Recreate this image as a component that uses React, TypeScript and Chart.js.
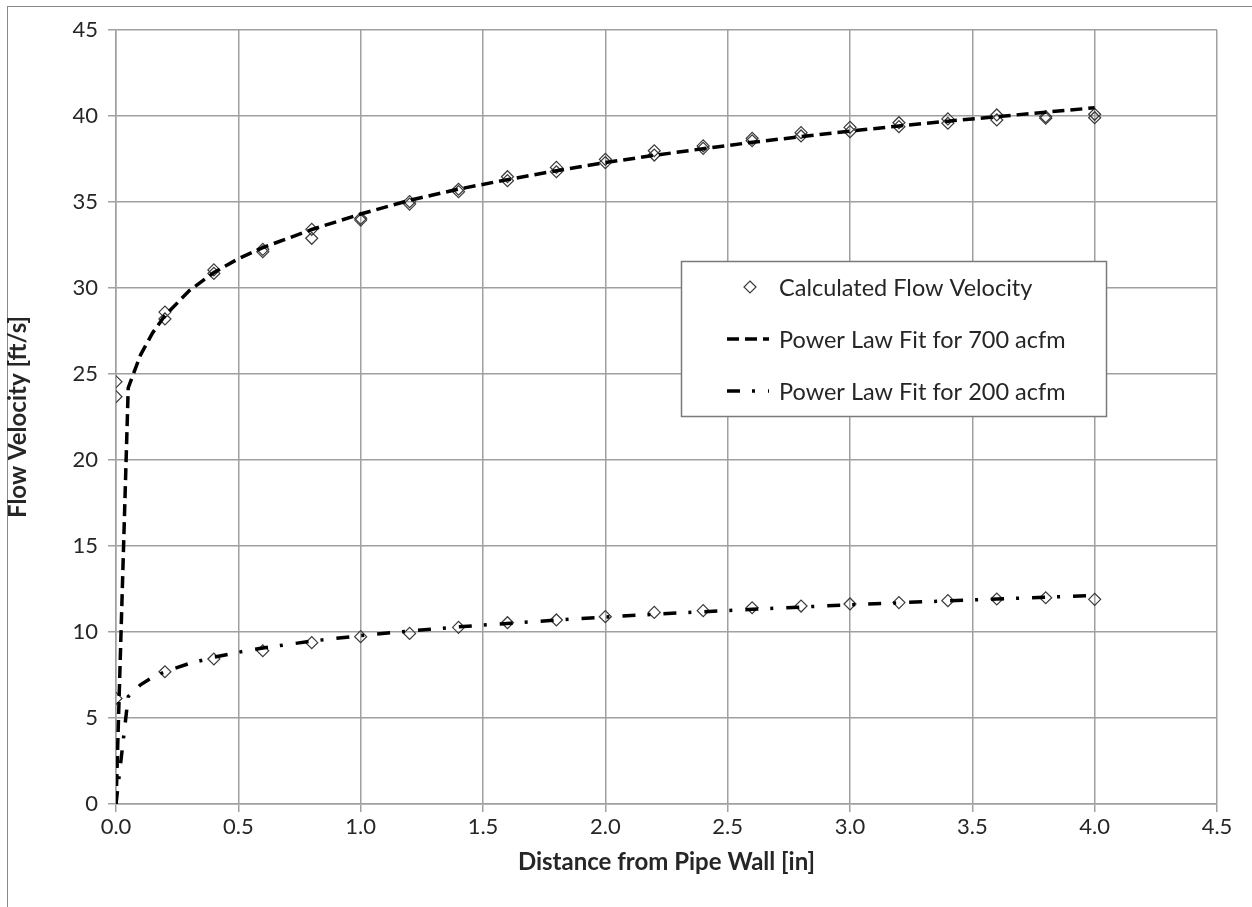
import React, { useEffect, useRef } from 'react';
import { Chart, registerables } from 'chart.js';

Chart.register(...registerables);

// Measurement positions (distance from pipe wall, in)
const profileX = [0, 0.2, 0.4, 0.6, 0.8, 1.0, 1.2, 1.4, 1.6, 1.8, 2.0, 2.2, 2.4, 2.6, 2.8, 3.0, 3.2, 3.4, 3.6, 3.8, 4.0];
// Calculated flow velocity, 700 acfm (two traverses)
const calc700A = [24.55, 28.6, 31.05, 32.25, 33.41, 34.05, 35.02, 35.74, 36.47, 37.01, 37.48, 37.98, 38.26, 38.7, 39.03, 39.34, 39.61, 39.83, 40.06, 39.96, 40.1];
const calc700B = [23.68, 28.2, 30.85, 32.11, 32.89, 33.95, 34.88, 35.6, 36.24, 36.76, 37.29, 37.73, 38.12, 38.56, 38.84, 39.09, 39.38, 39.58, 39.77, 39.87, 39.9];
// Calculated flow velocity, 200 acfm
const calc200 = [6.14, 7.69, 8.43, 8.91, 9.38, 9.73, 9.92, 10.27, 10.54, 10.7, 10.89, 11.14, 11.24, 11.41, 11.51, 11.63, 11.71, 11.82, 11.92, 11.99, 11.9];

// Power-law fit curves
const fitX = [0, 0.05, 0.1, 0.15, 0.2, 0.3, 0.4, 0.5, 0.6, 0.8, 1.0, 1.2, 1.4, 1.6, 1.8, 2.0, 2.2, 2.4, 2.6, 2.8, 3.0, 3.2, 3.4, 3.6, 3.8, 4.0];
const fit700 = [0, 24.2, 26.1, 27.4, 28.4, 29.85, 30.9, 31.7, 32.35, 33.4, 34.3, 35.1, 35.75, 36.3, 36.82, 37.29, 37.71, 38.1, 38.47, 38.8, 39.12, 39.42, 39.7, 39.96, 40.22, 40.48];
const fit200 = [0, 6.25, 6.93, 7.37, 7.69, 8.17, 8.53, 8.82, 9.07, 9.47, 9.79, 10.06, 10.3, 10.5, 10.69, 10.87, 11.03, 11.18, 11.32, 11.45, 11.58, 11.7, 11.81, 11.92, 12.02, 12.12];

const seriesLabels = ['Calculated Flow Velocity', 'Power Law Fit for 700 acfm', 'Power Law Fit for 200 acfm'];
const xTitle = 'Distance from Pipe Wall [in]';
const yTitle = 'Flow Velocity [ft/s]';

const FONT = 'Lato, "Open Sans", sans-serif';
const TEXT = '#262626';
const GRID = '#a0a0a0';
const MARKER = '#3a3a3a';
const DASH_700 = [12, 6];
const DASH_200 = [13, 12, 3, 13];

export default function App() {
  const ref = useRef<HTMLCanvasElement | null>(null);

  useEffect(() => {
    const canvas = ref.current;
    if (!canvas) return;

    const calcPoints: { x: number; y: number }[] = [];
    profileX.forEach((x, i) => {
      calcPoints.push({ x, y: calc700A[i] });
      calcPoints.push({ x, y: calc700B[i] });
      calcPoints.push({ x, y: calc200[i] });
    });

    const legendPlugin = {
      id: 'boxLegend',
      afterDatasetsDraw(chart: any) {
        const c = chart.ctx as CanvasRenderingContext2D;
        const area = chart.chartArea;
        const left = area.left + 565;
        const top = area.top + 231;
        const w = 425;
        const h = 155;
        c.save();
        c.fillStyle = '#ffffff';
        c.fillRect(left, top, w, h);
        c.strokeStyle = '#7a7a7a';
        c.lineWidth = 1.5;
        c.strokeRect(left + 0.5, top + 0.5, w, h);
        const rows = [top + 26, top + 78, top + 130];
        const symX = left + 69;
        const textX = left + 98;
        c.font = `23.5px ${FONT}`;
        c.fillStyle = TEXT;
        c.textBaseline = 'middle';
        c.textAlign = 'left';
        const r = 6;
        c.beginPath();
        c.moveTo(symX, rows[0] - r);
        c.lineTo(symX + r, rows[0]);
        c.lineTo(symX, rows[0] + r);
        c.lineTo(symX - r, rows[0]);
        c.closePath();
        c.strokeStyle = MARKER;
        c.lineWidth = 1.2;
        c.stroke();
        const drawSample = (y: number, dash: number[]) => {
          c.beginPath();
          c.setLineDash(dash);
          c.lineDashOffset = 0;
          c.strokeStyle = '#000';
          c.lineWidth = 3.5;
          c.moveTo(left + 46, y);
          c.lineTo(left + 88, y);
          c.stroke();
          c.setLineDash([]);
        };
        drawSample(rows[1], DASH_700);
        drawSample(rows[2], DASH_200);
        c.fillStyle = TEXT;
        seriesLabels.forEach((t, i) => c.fillText(t, textX, rows[i] + 1));
        c.restore();
      },
    };

    const chart = new Chart(canvas, {
      type: 'scatter',
      data: {
        datasets: [
          {
            label: seriesLabels[0],
            data: calcPoints,
            showLine: false,
            pointStyle: 'rectRot',
            pointRadius: 6,
            pointBorderWidth: 1.2,
            pointBorderColor: MARKER,
            pointBackgroundColor: 'rgba(0,0,0,0)',
            order: 2,
          },
          {
            label: seriesLabels[1],
            data: fitX.map((x, i) => ({ x, y: fit700[i] })),
            showLine: true,
            borderColor: '#000',
            borderWidth: 3.5,
            borderDash: DASH_700,
            pointRadius: 0,
            tension: 0,
            order: 1,
          },
          {
            label: seriesLabels[2],
            data: fitX.map((x, i) => ({ x, y: fit200[i] })),
            showLine: true,
            borderColor: '#000',
            borderWidth: 3.5,
            borderDash: DASH_200,
            pointRadius: 0,
            tension: 0,
            order: 0,
          },
        ],
      },
      options: {
        responsive: false,
        animation: false,
        devicePixelRatio: 1,
        layout: { padding: { left: 0, top: 30, right: 35, bottom: 0 } },
        plugins: {
          legend: { display: false },
          tooltip: { enabled: false },
        },
        scales: {
          x: {
            type: 'linear',
            min: 0,
            max: 4.5,
            afterFit: (s: any) => { s.height = 103; },
            ticks: {
              stepSize: 0.5,
              callback: (v: any) => Number(v).toFixed(1),
              font: { family: FONT, size: 22 },
              color: TEXT,
              padding: 2,
              maxRotation: 0,
            },
            grid: { color: GRID, lineWidth: 1.5, tickLength: 8, tickColor: GRID },
            border: { display: true, color: GRID, width: 1.5 },
            title: {
              display: true,
              text: xTitle,
              font: { family: FONT, size: 24, weight: 'bold' },
              color: TEXT,
              padding: { top: 0, bottom: 30 },
            },
          },
          y: {
            type: 'linear',
            min: 0,
            max: 45,
            afterFit: (s: any) => { s.width = 116; },
            ticks: {
              stepSize: 5,
              font: { family: FONT, size: 22 },
              color: TEXT,
              padding: 10,
            },
            grid: { color: GRID, lineWidth: 1.5, tickLength: 8, tickColor: GRID },
            border: { display: true, color: GRID, width: 1.5 },
            title: {
              display: true,
              text: yTitle,
              font: { family: FONT, size: 24, weight: 'bold' },
              color: TEXT,
              padding: { top: 4, bottom: 0 },
            },
          },
        },
      },
      plugins: [legendPlugin],
    } as any);

    return () => chart.destroy();
  }, []);

  return (
    <div style={{ position: 'absolute', left: 0, top: 0, width: 1252, height: 907, overflow: 'hidden', background: '#fff' }}>
      <div style={{ position: 'absolute', left: 7, top: 6, width: 1300, height: 1000, border: '1px solid #8a8a8a', boxSizing: 'border-box' }} />
      <canvas ref={ref} width={1252} height={907} style={{ position: 'absolute', left: 0, top: 0, width: 1252, height: 907 }} />
    </div>
  );
}
